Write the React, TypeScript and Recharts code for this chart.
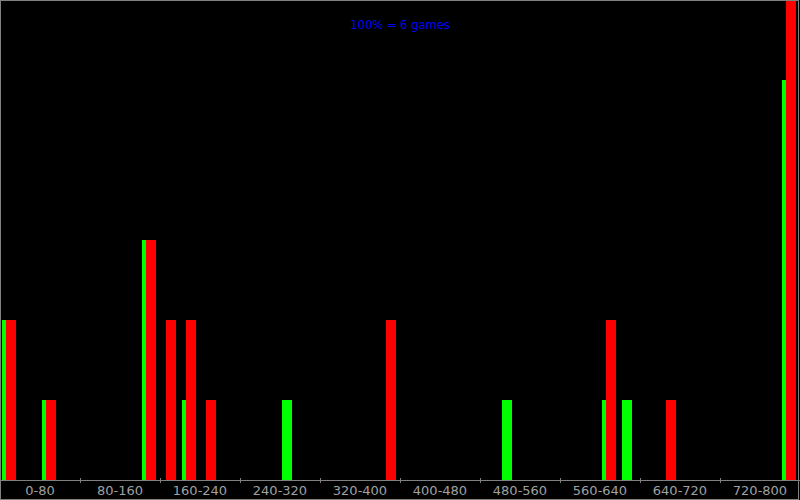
import { Bar, BarChart, XAxis, YAxis } from "recharts";

const GAMES_TOTAL = 6;
const BIN_WIDTH = 20;
const RANGE_WIDTH = 80;
const AXIS_MAX = 800;

// games per 20-wide bin, 40 bins from 0 to 800
const GREEN_GAMES = [
    2, 0, 1, 0, 0, 0, 0, 3, 0, 1,
    0, 0, 0, 0, 1, 0, 0, 0, 0, 0,
    0, 0, 0, 0, 0, 1, 0, 0, 0, 0,
    1, 1, 0, 0, 0, 0, 0, 0, 0, 5,
];
const RED_GAMES = [
    2, 0, 1, 0, 0, 0, 0, 3, 2, 2,
    1, 0, 0, 0, 0, 0, 0, 0, 0, 2,
    0, 0, 0, 0, 0, 0, 0, 0, 0, 0,
    2, 0, 0, 1, 0, 0, 0, 0, 0, 6,
];
const TICK_LABELS = [
    "0-80", "80-160", "160-240", "240-320", "320-400",
    "400-480", "480-560", "560-640", "640-720", "720-800",
];

const GREY = "#808080";
const LABEL_GREY = "#a0a0a0";

const data = GREEN_GAMES.map((green, i) => ({
    bin: i,
    start: i * BIN_WIDTH,
    green,
    red: RED_GAMES[i],
}));

// label centres plus the boundaries between ranges
const axisTicks: number[] = [];
TICK_LABELS.forEach((_, i) => {
    if (i > 0) axisTicks.push(i * RANGE_WIDTH);
    axisTicks.push(i * RANGE_WIDTH + RANGE_WIDTH / 2);
});

const RangeTick = (props: any) => {
    const { x, y, payload } = props;
    const value = payload.value as number;
    if (value % RANGE_WIDTH === 0) {
        return <line x1={x} x2={x} y1={y - 2} y2={y + 3} stroke={GREY} strokeWidth={1} />;
    }
    const label = TICK_LABELS[Math.floor(value / RANGE_WIDTH)];
    return (
        <text
            x={x}
            y={y + 6}
            dy="0.71em"
            textAnchor="middle"
            fill={LABEL_GREY}
            fontSize={13}
            fontFamily="DejaVu Sans"
        >
            {label}
        </text>
    );
};

const App = () => {
    return (
        <div
            style={{
                position: "fixed",
                left: 0,
                top: 0,
                width: 800,
                height: 500,
                background: "#000",
                shapeRendering: "crispEdges",
            }}
        >
            <BarChart
                width={800}
                height={500}
                data={data}
                margin={{ top: 0, right: 0, bottom: 0, left: 0 }}
                barGap={-6}
            >
                <XAxis
                    xAxisId="range"
                    dataKey="start"
                    type="number"
                    domain={[0, AXIS_MAX]}
                    allowDataOverflow
                    ticks={axisTicks}
                    interval={0}
                    height={20}
                    axisLine={{ stroke: GREY }}
                    tickLine={false}
                    tickSize={0}
                    tickMargin={0}
                    tick={<RangeTick />}
                />
                <XAxis xAxisId="bins" dataKey="bin" hide height={0} padding={{ left: -1, right: 1 }} />
                <YAxis hide domain={[0, GAMES_TOTAL]} allowDataOverflow />
                <Bar xAxisId="bins" dataKey="green" fill="#00ff00" barSize={10} isAnimationActive={false} />
                <Bar xAxisId="bins" dataKey="red" fill="#ff0000" barSize={10} isAnimationActive={false} />
            </BarChart>
            <div
                style={{
                    position: "absolute",
                    left: 0,
                    top: 19,
                    width: 800,
                    textAlign: "center",
                    color: "#0000ff",
                    fontFamily: "DejaVu Sans",
                    fontSize: 11.5,
                    lineHeight: "12px",
                }}
            >
                100% = {GAMES_TOTAL} games
            </div>
            <div
                style={{
                    position: "absolute",
                    left: 0,
                    top: 0,
                    width: 799,
                    height: 500,
                    boxSizing: "border-box",
                    border: `1px solid ${GREY}`,
                    pointerEvents: "none",
                }}
            />
        </div>
    );
};

export default App;
